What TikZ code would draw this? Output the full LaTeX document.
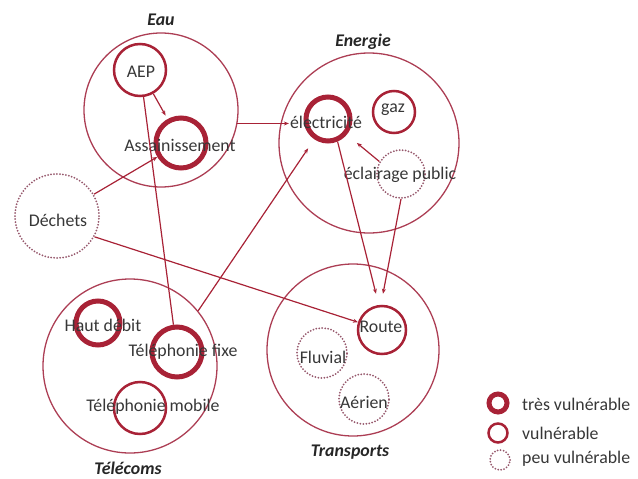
\documentclass[tikz,border=0pt]{standalone}
\usepackage{fontspec}
\setmainfont{Carlito}
\usetikzlibrary{arrows.meta}
\definecolor{vred}{RGB}{168,34,54}
\definecolor{gred}{RGB}{172,62,84}
\definecolor{dred}{RGB}{150,88,108}
\definecolor{txtgray}{RGB}{55,55,55}

\begin{document}
\begin{tikzpicture}[x=1pt,y=-1pt,
  grp/.style={circle,draw=gred,line width=1.3pt,inner sep=0pt},
  tv/.style={circle,draw=vred,line width=5pt,inner sep=0pt},
  vu/.style={circle,draw=vred,line width=2.5pt,inner sep=0pt},
  pv/.style={circle,draw=dred,line width=2pt,dash pattern=on 0pt off 3pt,line cap=round,inner sep=0pt},
  txt/.style={text=txtgray,font=\fontsize{17.8}{20}\selectfont,inner sep=1pt},
  ttl/.style={text=black!85,font=\fontsize{17.8}{20}\selectfont\bfseries\itshape,inner sep=0pt},
  lnk/.style={draw=vred,line width=1.2pt},
  arr/.style={lnk,-{Stealth[length=5pt,width=4pt]}},
]
\useasboundingbox (0,0) rectangle (638,479);

% ---------------- groups ----------------
\node[grp,minimum size=154pt] (eau) at (161,110) {};
\node[grp,minimum size=180pt] (energie) at (369,143) {};
\node[grp,minimum size=172pt] (transports) at (353,350) {};
\node[grp,minimum size=174pt] (telecoms) at (130,366) {};
\node[ttl] (eaut) at (161,20) {Eau};
\node[ttl] (energiet) at (363,42) {Energie};
\node[ttl] (transportst) at (350,452) {Transports};
\node[ttl] (telecomst) at (128,468) {Télécoms};

% ---------------- networks ----------------
\node[vu,minimum size=52pt] (aep) at (140,70) {};
\node[tv,minimum size=50pt] (assain) at (181,143) {};
\node[tv,minimum size=44pt] (elec) at (328,119) {};
\node[vu,minimum size=42pt] (gaz) at (394,112) {};
\node[pv,minimum size=48pt] (eclair) at (401,174) {};
\node[vu,minimum size=48pt] (route) at (382,330) {};
\node[pv,minimum size=50pt] (fluvial) at (322,353) {};
\node[pv,minimum size=50pt] (aerien) at (364,399) {};
\node[tv,minimum size=44pt] (haut) at (98,323) {};
\node[tv,minimum size=50pt] (fixe) at (177,352) {};
\node[vu,minimum size=52pt] (mobile) at (140,408) {};
\node[pv,minimum size=84pt] (dechets) at (57,216) {};

\node[txt] (aept) at (141,72) {AEP};
\node[txt] (assaint) at (180,145) {Assainissement};
\node[txt] (elect) at (326,122) {électricité};
\node[txt] (gazt) at (393,110) {gaz};
\node[txt] (eclairt) at (400,175) {éclairage public};
\node[txt] (routet) at (381,327) {Route};
\node[txt] (fluvialt) at (323,357) {Fluvial};
\node[txt] (aerient) at (364,402) {Aérien};
\node[txt] (hautt) at (103,325) {Haut débit};
\node[txt] (fixet) at (183,352) {Téléphonie fixe};
\node[txt] (mobilet) at (153,407) {Téléphonie mobile};
\node[txt] (dechetst) at (58,220) {Déchets};

% ---------------- dependencies ----------------
\draw[arr,shorten >=4pt] (aep) -- (assain);
\draw[lnk] (aep) -- (fixe);
\draw[arr] (dechets) -- (assain);
\draw[arr] (dechets.-29) -- (route);
\draw[arr] (eau.-10) -- (eau.-10 -| elect.west);
\draw[arr,shorten >=11pt] (telecoms.39) -- (elec);
\draw[arr,shorten >=13pt] (eclair.150) -- (elec);
\draw[arr] (elec.-67) -- ([xshift=-6pt,yshift=11pt]route.north);
\draw[arr] (eclair.south) -- ([xshift=1pt,yshift=11pt]route.north);

% ---------------- legend ----------------
\node[tv,minimum size=18pt] (ltv) at (498,403) {};
\node[vu,minimum size=19pt] (lvu) at (498,433) {};
\node[pv,minimum size=20pt] (lpv) at (500,460) {};
\node[txt,anchor=west] (ltvt) at (521,404) {très vulnérable};
\node[txt,anchor=west] (lvut) at (521,433) {vulnérable};
\node[txt,anchor=west] (lpvt) at (521,459) {peu vulnérable};
\end{tikzpicture}
\end{document}
